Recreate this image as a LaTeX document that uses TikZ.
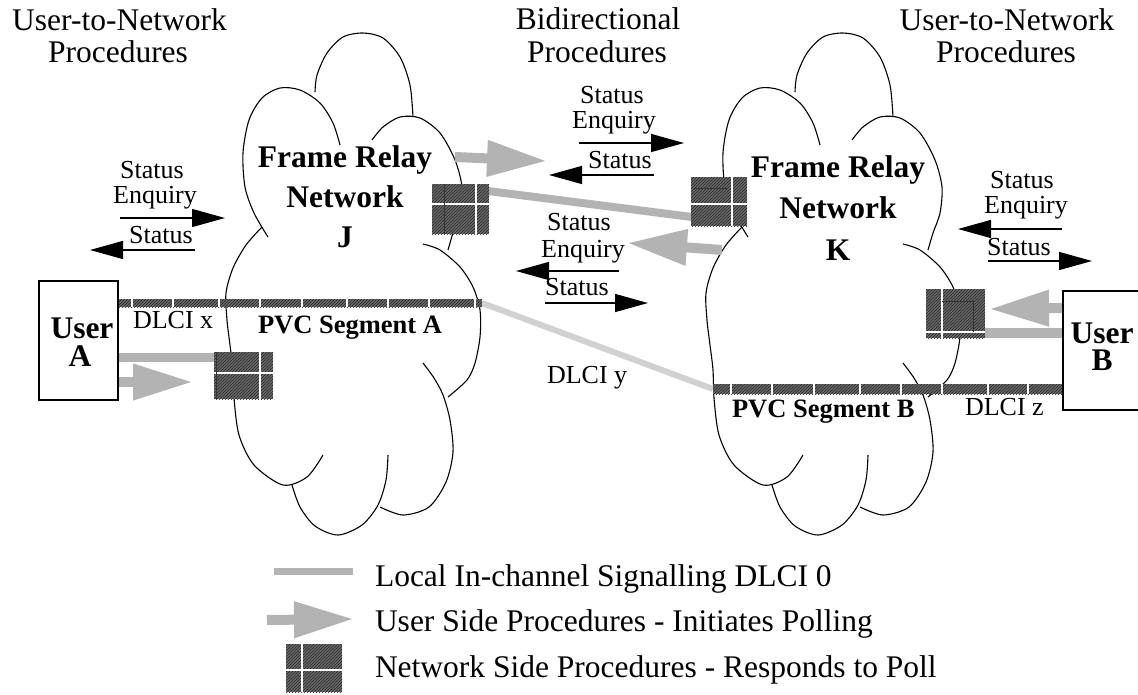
\documentclass[tikz,border=0pt]{standalone}
\usepackage{fontspec}
\setmainfont{Liberation Serif}
\usetikzlibrary{arrows.meta,patterns}
\definecolor{sig}{RGB}{179,179,179}
\definecolor{hatchbg}{RGB}{105,105,105}
\tikzset{
  every node/.style={inner sep=0pt, outer sep=0pt},
  hdr/.style={font=\fontsize{31.5}{32}\selectfont, anchor=base},
  sm/.style={font=\fontsize{26}{28}\selectfont, anchor=base},
  smw/.style={font=\fontsize{26}{28}\selectfont, anchor=base west},
  smb/.style={font=\bfseries\fontsize{26.5}{28}\selectfont, anchor=base west},
  big/.style={font=\bfseries\fontsize{31.5}{40}\selectfont, anchor=base},
  leg/.style={font=\fontsize{31.5}{32}\selectfont, anchor=base west},
  cloudline/.style={line width=1.1pt},
  msg/.style={line width=1.3pt, -{Triangle[length=33pt,width=18pt]}},
  sigline/.style={draw=sig, line width=9pt},
  usr/.style={draw=sig, line width=10pt, -{Triangle[length=60pt,width=34pt]}},
  hatch/.style={fill=hatchbg, postaction={pattern=north east lines, pattern color=black!85}},
  netbox/.style={hatch, minimum width=57pt, minimum height=48pt},
  userbox/.style={draw, line width=2pt, minimum width=79pt, minimum height=119pt},
  sep/.style={draw=white, line width=1.3pt},
  darksep/.style={draw=black!80, line width=1pt},
  dlciy/.style={draw=black!18, line width=6pt},
  netcloud/.pic={
    \draw[cloudline] plot[smooth] coordinates {(315,92) (317,75) (327,53) (343,37) (363,33) (383,38) (400,57) (410,85) (413,117)};
    \draw[cloudline] plot[smooth] coordinates {(340,145) (333,123) (320,103) (300,90) (280,88) (262,98) (249,120) (243,153) (245,187) (254,213) (268,237)};
    \draw[cloudline] plot[smooth] coordinates {(372,140) (383,127) (400,117) (420,118) (440,133) (455,160) (462,187) (460,213) (453,233) (448,250)};
    \draw[cloudline] plot[smooth] coordinates {(262,227) (246,245) (233,268) (226,293) (227,320) (230,345) (233,370) (234,398) (239,435) (254,465) (283,485) (307,477) (323,455)};
    \draw[cloudline] plot[smooth] coordinates {(292,485) (300,507) (315,526) (338,535) (362,525) (378,505) (386,480) (388,455)};
    \draw[cloudline] plot[smooth] coordinates {(380,507) (403,515) (429,507) (446,482) (453,452) (450,420) (443,395) (434,378) (423,363)};
    \draw[cloudline] plot[smooth] coordinates {(423,244) (440,250) (460,267) (473,287) (480,310) (480,337) (475,363) (467,380) (448,397)};
  }
}
\begin{document}
\begin{tikzpicture}[x=1pt,y=-1pt]
\useasboundingbox (0,0) rectangle (1138,694);

% headers
\node[hdr] (h1a) at (119.5,30) {User-to-Network};
\node[hdr] (h1b) at (118,62) {Procedures};
\node[hdr] (h2a) at (598,29) {Bidirectional};
\node[hdr] (h2b) at (597,62) {Procedures};
\node[hdr] (h3a) at (1007,30) {User-to-Network};
\node[hdr] (h3b) at (1006,62) {Procedures};

% clouds
\pic (cJ) at (0,0) {netcloud};
\pic (cK) at (480,0) {netcloud};

% PVC segments
\coordinate (pa1) at (118,299); \coordinate (pa2) at (482,307);
\coordinate (pb1) at (713,384); \coordinate (pb2) at (1063,394);
\coordinate (ya) at (482,303); \coordinate (yb) at (713,389);
\draw[dlciy] (ya) -- (yb);
\path[hatch] (pa1) rectangle (pa2);
\path[hatch] (pb1) rectangle (pb2);
\foreach \x in {132,173,219,260,302,347,388,429,475}{\draw[sep] (\x,299) -- (\x,307);}
\foreach \x in {731,772,814,860,901,942,988,1028}{\draw[sep] (\x,384) -- (\x,394);}

% user boxes
\node[userbox] (userA) at (78.5,340) {};
\node[userbox, minimum width=80pt] (userB) at (1103,350.5) {};

% signalling lines
\coordinate (a1) at (119,357); \coordinate (a2) at (216,357);
\draw[sigline] (a1) -- (a2);
\coordinate (j1) at (488,191); \coordinate (k1) at (692,217);
\draw[sigline, line width=8pt] (j1) -- (k1);
\coordinate (b1) at (984,333); \coordinate (b2) at (1062,333);
\draw[sigline, line width=10pt] (b1) -- (b2);

% user side arrows
\coordinate (a3) at (119,382); \coordinate (a4) at (193,382);
\draw[usr] (a3) -- (a4);
\coordinate (j2) at (455,157); \coordinate (j3) at (547,161);
\draw[usr] (j2) -- (j3);
\coordinate (k2) at (722,250); \coordinate (k3) at (627,243);
\draw[usr] (k2) -- (k3);
\coordinate (b3) at (1062,308); \coordinate (b4) at (989,309);
\draw[usr] (b3) -- (b4);

% network side boxes
\node[netbox, minimum width=59pt, minimum height=47pt] (nA) at (243.5,375.5) {};
\draw[sep] (260,352) -- (260,399); \draw[sep] (214,373) -- (273,373);
\draw[darksep] (216,352) -- (216,399);
\node[netbox, minimum width=57pt, minimum height=50pt] (nJ) at (460.5,209) {};
\draw[sep] (476,184) -- (476,234); \draw[sep] (432,204) -- (489,204);
\draw[darksep] (444,184) -- (444,234);
\node[netbox, minimum width=56pt, minimum height=49pt] (nK1) at (719,201.5) {};
\draw[sep] (732,177) -- (732,226); \draw[sep] (691,204) -- (747,204);
\draw[darksep] (695,188) -- (727,188);
\node[netbox, minimum width=59pt, minimum height=49pt] (nK2) at (955.5,313.5) {};
\draw[sep] (942,289) -- (942,338); \draw[sep] (926,332) -- (985,332);
\draw[darksep] (942,301) -- (973,301) -- (973,332);

% network labels
\node[big] (jt1) at (345,167) {Frame Relay};
\node[big] (jt2) at (345,207) {Network};
\node[big] (jt3) at (345,247) {J};
\node[big] (kt1) at (838,177) {Frame Relay};
\node[big] (kt2) at (838,218) {Network};
\node[big] (kt3) at (838,260) {K};

% user labels
\node[big] (ua1) at (82,338) {User};
\node[big] (ua2) at (80,366) {A};
\node[big] (ub1) at (1102,343) {User};
\node[big] (ub2) at (1102,370) {B};

% DLCI / PVC labels
\node[smw] (dx) at (133,328) {DLCI x};
\node[smb] (pvca) at (258,333) {PVC Segment A};
\node[smw] (dy) at (547,383) {DLCI y};
\node[smb] (pvcb) at (732,417) {PVC Segment B};
\node[smw] (dz) at (965,415) {DLCI z};

% status messages: left
\node[sm] (s1a) at (152,178) {Status};
\node[sm] (s1b) at (155,203) {Enquiry};
\coordinate (m1a) at (120,218); \coordinate (m1b) at (225,218);
\draw[msg] (m1a) -- (m1b);
\node[sm] (s1c) at (161,243) {Status};
\coordinate (m1c) at (195,250); \coordinate (m1d) at (90,250);
\draw[msg] (m1c) -- (m1d);

% middle top
\node[sm] (s2a) at (612,103) {Status};
\node[sm] (s2b) at (614,128) {Enquiry};
\coordinate (m2a) at (579,143); \coordinate (m2b) at (684,143);
\draw[msg] (m2a) -- (m2b);
\node[sm] (s2c) at (620,168) {Status};
\coordinate (m2c) at (654,175); \coordinate (m2d) at (549,175);
\draw[msg] (m2c) -- (m2d);

% middle lower
\node[sm] (s3a) at (579,230) {Status};
\node[sm] (s3b) at (583,257) {Enquiry};
\coordinate (m3a) at (619,271); \coordinate (m3b) at (516,271);
\draw[msg] (m3a) -- (m3b);
\node[sm] (s3c) at (577,295) {Status};
\coordinate (m3c) at (545,303); \coordinate (m3d) at (648,303);
\draw[msg] (m3c) -- (m3d);

% right
\node[sm] (s4a) at (1022,188) {Status};
\node[sm] (s4b) at (1026,213) {Enquiry};
\coordinate (m4a) at (1062,229); \coordinate (m4b) at (958,229);
\draw[msg] (m4a) -- (m4b);
\node[sm] (s4c) at (1019,255) {Status};
\coordinate (m4c) at (988,261); \coordinate (m4d) at (1092,261);
\draw[msg] (m4c) -- (m4d);

% legend
\coordinate (l1) at (274,571); \coordinate (l2) at (353,571);
\draw[sigline, line width=7pt] (l1) -- (l2);
\node[leg] (lt1) at (375,586) {Local In-channel Signalling DLCI 0};
\coordinate (l3) at (267,620); \coordinate (l4) at (354,619);
\draw[usr] (l3) -- (l4);
\node[leg] (lt2) at (375,631) {User Side Procedures - Initiates Polling};
\node[netbox, minimum width=56pt, minimum height=48pt] (nL) at (314,668) {};
\draw[sep] (302,644) -- (302,692); \draw[sep] (286,670) -- (342,670);
\node[leg] (lt3) at (375,677) {Network Side Procedures - Responds to Poll};
\end{tikzpicture}
\end{document}
